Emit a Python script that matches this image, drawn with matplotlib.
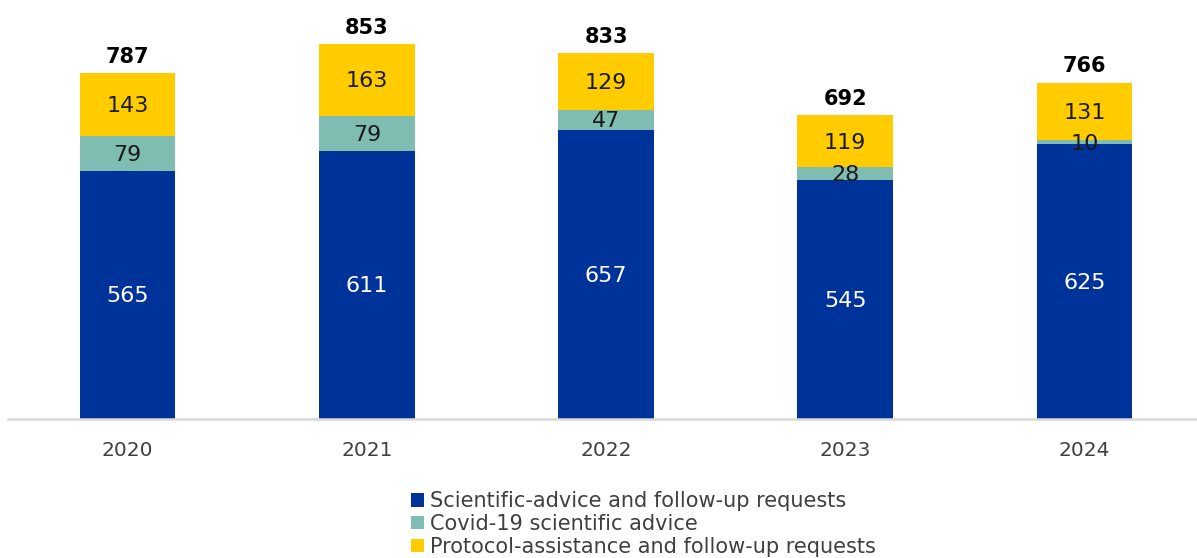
import numpy as np
import matplotlib
matplotlib.use("Agg")
import matplotlib.pyplot as plt


years = ["2020", "2021", "2022", "2023", "2024"]
scientific = [565, 611, 657, 545, 625]
covid = [79, 79, 47, 28, 10]
protocol = [143, 163, 129, 119, 131]

series_names = [
    "Scientific-advice and follow-up requests",
    "Covid-19 scientific advice",
    "Protocol-assistance and follow-up requests"
]

colors = ["#003399", "#7FBCB2", "#FFCC00"]
label_colors = ["white", "#1a1a1a", "#1a1a1a"]


def draw_chart():

    plt.rcParams["font.family"] = ["DejaVu Sans"]

    fig = plt.figure(figsize=(11.97, 5.58), dpi=100)
    ax = fig.add_axes([8 / 1197, 139 / 558, 1196 / 1197, 419 / 558])

    x = np.arange(len(years))
    bottom = np.zeros(len(years))

    for values, name, color, text_color in zip(
        [scientific, covid, protocol], series_names, colors, label_colors
    ):
        values = np.array(values)
        ax.bar(x, values, bottom=bottom, width=0.4, color=color, label=name)

        for xi, b, v in zip(x, bottom, values):
            ax.text(
                xi,
                b + v / 2 - 3,
                f"{v}",
                ha="center",
                va="center",
                fontsize=16,
                color=text_color
            )

        bottom = bottom + values

    for xi, total in zip(x, bottom):
        ax.text(
            xi,
            total + 14,
            f"{int(total)}",
            ha="center",
            va="bottom",
            fontsize=15,
            fontweight="bold",
            color="black"
        )

    ax.set_xlim(-0.5, 4.5)
    ax.set_ylim(0, 954)

    ax.set_xticks(x)
    ax.set_xticklabels(years, fontsize=14.5, color="#404040")
    ax.tick_params(axis="x", length=0, pad=16)
    ax.set_yticks([])

    for side in ["top", "right", "left"]:
        ax.spines[side].set_visible(False)
    ax.spines["bottom"].set_color("#D9D9D9")
    ax.spines["bottom"].set_linewidth(1.8)

    fig.legend(
        loc="upper left",
        bbox_to_anchor=(401 / 1197, 1 - 481 / 558),
        frameon=False,
        fontsize=15,
        labelcolor="#404040",
        handlelength=0.6,
        handleheight=0.6,
        handletextpad=0.3,
        labelspacing=0.13,
        borderpad=0
    )

    fig.savefig("out.png", dpi=100)


if __name__ == "__main__":
    draw_chart()
